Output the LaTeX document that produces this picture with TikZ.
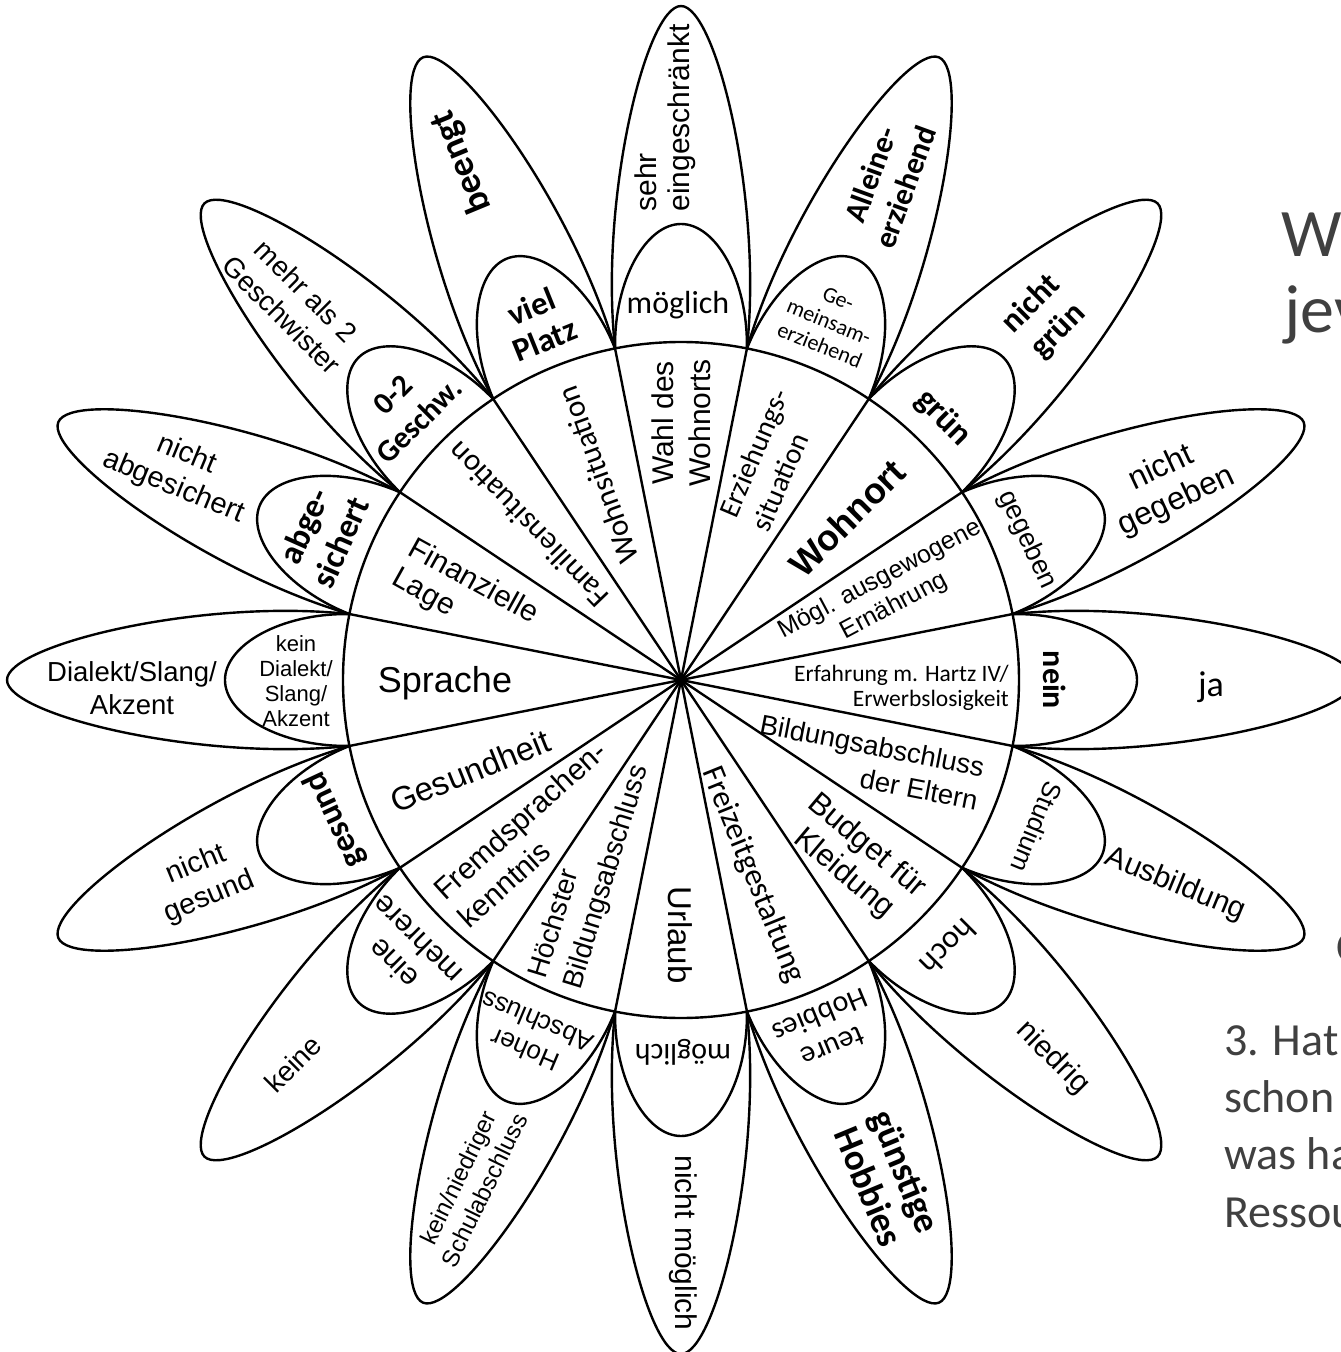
\documentclass[tikz,border=0pt]{standalone}
\usepackage{fontspec}
\setmainfont{Liberation Sans}
\newfontfamily\carl{Carlito}
\newcommand\fA[2]{\fontsize{#1}{#2}\selectfont}
\newcommand\fAb[2]{\bfseries\fontsize{#1}{#2}\selectfont}
\newcommand\fC[2]{\carl\fontsize{#1}{#2}\selectfont}
\newcommand\fCb[2]{\carl\bfseries\fontsize{#1}{#2}\selectfont}
\definecolor{slidegray}{HTML}{404040}
\begin{document}
\begin{tikzpicture}[x=1pt,y=1pt,line width=2.4pt,
  lab/.style={inner sep=0pt,align=center},
  side/.style={inner sep=0pt,anchor=base west,text=slidegray}]
\useasboundingbox (-681,-672) rectangle (660,680);
% petals
\foreach \t in {0,22.5,...,337.5}{
  \begin{scope}[rotate=\t]
    \draw (331.5,65.9) .. controls (480,82) and (674,35) .. (674,0)
          .. controls (674,-35) and (480,-82) .. (331.5,-65.9);
    \draw (331.5,65.9) .. controls (400,67) and (456,35) .. (456,0)
          .. controls (456,-35) and (400,-67) .. (331.5,-65.9);
  \end{scope}
}
\foreach \t in {11.25,33.75,...,348.75} \draw (0,0) -- (\t:338);
\draw (0,0) circle (338);
\fill (0,0) circle (4);
% sector labels
\node[lab,anchor=east,align=right,font=\fC{23.5}{25}] (s0) at (329,-8) {Erfahrung m. Hartz IV/\\Erwerbslosigkeit};
\node[lab,rotate=28,font=\fA{25}{30}] (s1) at (206,87) {Mögl. ausgewogene\\Ernährung};
\node[lab,rotate=45,font=\fAb{36}{40}] (s2) at (166,162) {Wohnort};
\node[lab,rotate=67,align=left,font=\fC{29}{35}] (s3) at (89,220) {Erziehungs-\\situation};
\node[lab,rotate=90,font=\fA{30}{37}] (s4) at (0,257) {Wahl des\\Wohnorts};
\node[lab,rotate=110,font=\fC{31}{36}] (s5) at (-83,205) {Wohnsituation};
\node[lab,rotate=134,font=\fC{31}{36}] (s6) at (-153,155) {Familiensituation};
\node[lab,rotate=-29,align=left,font=\fA{30}{34}] (s7) at (-216,83) {Finanzielle\\Lage};
\node[lab,font=\fA{36}{40}] (s8) at (-236,-3) {Sprache};
\node[lab,rotate=22,font=\fA{33}{38}] (s9) at (-211,-91) {Gesundheit};
\node[lab,rotate=42,align=left,font=\fA{30}{37}] (s10) at (-149,-154) {Fremdsprachen-\\kenntnis};
\node[lab,rotate=73,align=left,font=\fA{28}{36}] (s11) at (-91,-192) {Höchster\\Bildungsabschluss};
\node[lab,rotate=-90,font=\fA{33}{38}] (s12) at (-1,-255) {Urlaub};
\node[lab,rotate=-68,font=\fC{32}{38}] (s13) at (72,-195) {Freizeitgestaltung};
\node[lab,rotate=-40,font=\fA{31}{36}] (s14) at (174,-180) {Budget für\\Kleidung};
\node[lab,rotate=-11,align=right,font=\fA{27.5}{34}] (s15) at (188,-82) {Bildungsabschluss\\der Eltern};
% inner petal labels
\node[lab,rotate=-90,font=\fCb{32}{36}] (i0) at (374,0) {nein};
\node[lab,rotate=-65,font=\fA{27}{32}] (i1) at (346,140) {gegeben};
\node[lab,rotate=-45,font=\fCb{34}{38}] (i2) at (262,262) {grün};
\node[lab,rotate=-22,font=\fC{22}{25}] (i3) at (148,358) {Ge-\\meinsam-\\erziehend};
\node[lab,font=\fC{32}{36}] (i4) at (-3,375) {möglich};
\node[lab,rotate=22,font=\fCb{33}{36}] (i5) at (-143,357) {viel\\Platz};
\node[lab,rotate=45,font=\fCb{31}{37}] (i6) at (-275,272) {0-2\\Geschw.};
\node[lab,rotate=66,font=\fCb{34}{40}] (i7) at (-359,146) {abge-\\sichert};
\node[lab,font=\fA{22}{25}] (i8) at (-385,-1) {kein\\Dialekt/\\Slang/\\Akzent};
\node[lab,rotate=115,font=\fCb{34}{38}] (i9) at (-346,-140) {gesund};
\node[lab,rotate=135,font=\fA{30}{34}] (i10) at (-276,-272) {eine\\mehrere};
\node[lab,rotate=157,font=\fA{26}{31}] (i11) at (-150,-356) {Hoher\\Abschluss};
\node[lab,rotate=180,font=\fC{30}{34}] (i12) at (2,-372) {möglich};
\node[lab,rotate=202.5,font=\fC{30}{34}] (i13) at (292.5:380) {teure\\Hobbies};
\node[lab,rotate=225,font=\fC{32}{36}] (i14) at (315:378) {hoch};
\node[lab,rotate=-112.5,font=\fA{26}{30}] (i15) at (337.5:385) {Studium};
% outer petal labels
\node[lab,font=\fC{36}{40}] (o0) at (530,-7) {ja};
\node[lab,rotate=25,font=\fA{32}{36}] (o1) at (488,195) {nicht\\gegeben};
\node[lab,rotate=45,font=\fCb{33}{38}] (o2) at (364,362) {nicht\\grün};
\node[lab,rotate=70,font=\fCb{31}{37}] (o3) at (207,499) {Alleine-\\erziehend};
\node[lab,rotate=90,align=left,font=\fA{30}{33}] (o4) at (-16,562) {sehr\\eingeschränkt};
\node[lab,rotate=112.5,font=\fCb{37}{40}] (o5) at (-219,518) {beengt};
\node[lab,rotate=-45,font=\fA{28}{34}] (o6) at (-387,377) {mehr als 2\\Geschwister};
\node[lab,rotate=-22.5,font=\fA{29}{35}] (o7) at (-501,209) {nicht\\abgesichert};
\node[lab,font=\fA{27.5}{33}] (o8) at (-549,-8) {Dialekt/Slang/\\Akzent};
\node[lab,rotate=22.5,font=\fA{29}{35}] (o9) at (-478,-201) {nicht\\gesund};
\node[lab,rotate=45,font=\fA{28}{32}] (o10) at (-388,-384) {keine};
\node[lab,rotate=64,font=\fA{24}{29}] (o11) at (-210,-504) {kein/niedriger\\Schulabschluss};
\node[lab,rotate=-90,font=\fA{30}{34}] (o12) at (2,-563) {nicht möglich};
\node[lab,rotate=-67.5,font=\fCb{37}{40}] (o13) at (292.5:540) {günstige\\Hobbies};
\node[lab,rotate=-45,font=\fA{30}{34}] (o14) at (314.5:530) {niedrig};
\node[lab,rotate=-22.5,font=\fA{30}{34}] (o15) at (337.5:535) {Ausbildung};
% cut-off slide text at the right edge
\node[side,font=\fC{68}{72}] (t1) at (599,423) {We};
\node[side,font=\fC{68}{72}] (t2) at (602,347) {jev};
\node[side,font=\fC{46}{50}] (t0) at (654,-282) {C};
\node[side,font=\fC{46}{50}] (t3) at (542,-375) {3. Hat};
\node[side,font=\fC{46}{50}] (t4) at (542,-432) {schon};
\node[side,font=\fC{46}{50}] (t5) at (542,-489) {was ha};
\node[side,font=\fC{46}{50}] (t6) at (542,-547) {Ressou};
\end{tikzpicture}
\end{document}
